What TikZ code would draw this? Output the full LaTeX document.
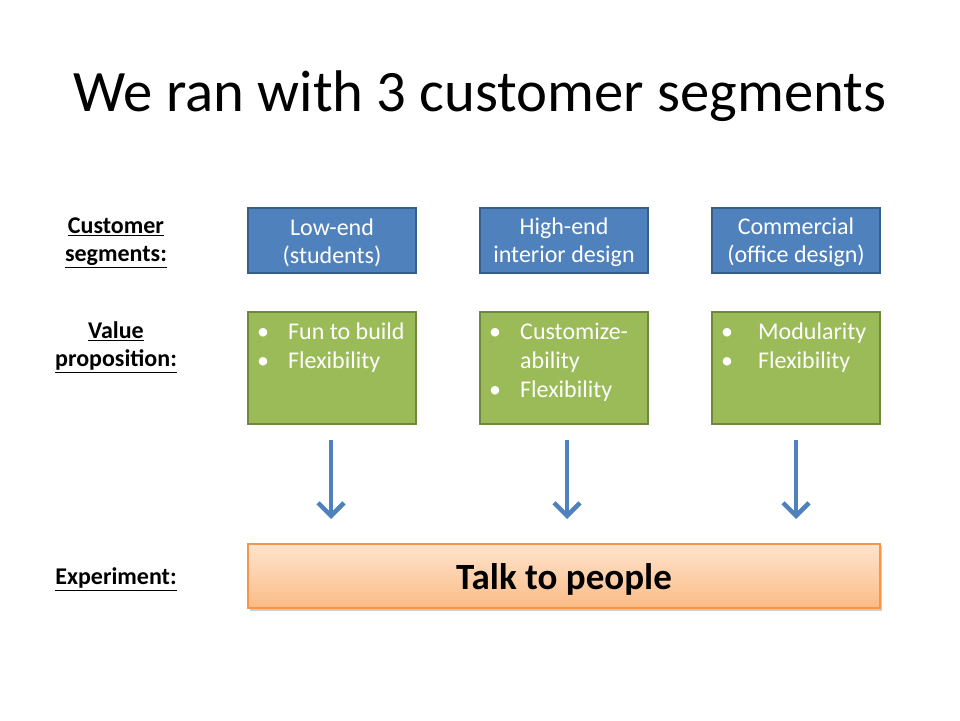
\documentclass[tikz,border=0pt]{standalone}
\usepackage{fontspec}
\setmainfont{Carlito}
\usetikzlibrary{arrows.meta,shadows}
\definecolor{segblue}{HTML}{4F81BD}
\definecolor{segblueline}{HTML}{385D8A}
\definecolor{vpgreen}{HTML}{9BBB59}
\definecolor{vpgreenline}{HTML}{71893F}
\definecolor{exptop}{HTML}{FFE4CE}
\definecolor{expbot}{HTML}{FBBB85}
\definecolor{expline}{HTML}{F79646}
\begin{document}
\begin{tikzpicture}[x=1pt,y=1pt,
  segbox/.style={draw=segblueline,fill=segblue,line width=2pt,minimum width=168pt,minimum height=65pt,inner sep=0pt},
  segtext/.style={text=white,align=center,inner sep=0pt,font=\fontsize{24}{28}\selectfont},
  vpbox/.style={draw=vpgreenline,fill=vpgreen,line width=2pt,minimum width=168pt,minimum height=112pt,inner sep=0pt},
  vptext/.style={anchor=base west,inner sep=0pt,text=white,font=\fontsize{24}{29}\selectfont},
  rowlabel/.style={align=center,inner sep=0pt,font=\bfseries\fontsize{24}{28}\selectfont},
  flowarrow/.style={draw=segblue,line width=4.5pt,-{Straight Barb[length=13pt,width=26pt,line width=4.5pt]}}
]
\useasboundingbox (0,0) rectangle (960,720);
\fill[white] (0,0) rectangle (960,720);

\node[inner sep=0pt,font=\fontsize{58.7}{70}\selectfont] (title) at (480,624) {We ran with 3 customer segments};

% row labels
\node[rowlabel] (lseg) at (116,477) {\underline{Customer}\\\underline{segments:}};
\node[rowlabel] (lvp) at (116,373) {\underline{Value}\\\underline{proposition:}};
\node[rowlabel] (lexp) at (116,141) {\underline{Experiment:}};

% segment boxes
\node[segbox] (s1) at (332,479.5) {};
\node[segbox] (s2) at (564,479.5) {};
\node[segbox] (s3) at (796,479.5) {};
\node[segtext] (s1t) at (332,477.5) {Low-end\\(students)};
\node[segtext] (s2t) at (564,477.5) {High-end\\interior design};
\node[segtext] (s3t) at (796,477.5) {Commercial\\(office design)};

% value proposition boxes
\node[vpbox] (v1) at (332,352) {};
\node[vpbox] (v2) at (564,352) {};
\node[vpbox] (v3) at (796,352) {};

\node[vptext] (v1b1) at (257,380) {\textbullet};
\node[vptext] (v1t1) at (288,380) {Fun to build};
\node[vptext] (v1b2) at (257,351) {\textbullet};
\node[vptext] (v1t2) at (288,351) {Flexibility};

\node[vptext] (v2b1) at (489,380) {\textbullet};
\node[vptext] (v2t1) at (520,380) {Customize-};
\node[vptext] (v2t2) at (520,351) {ability};
\node[vptext] (v2b2) at (489,322) {\textbullet};
\node[vptext] (v2t3) at (520,322) {Flexibility};

\node[vptext] (v3b1) at (721,380) {\textbullet};
\node[vptext] (v3t1) at (758,380) {Modularity};
\node[vptext] (v3b2) at (721,351) {\textbullet};
\node[vptext] (v3t2) at (758,351) {Flexibility};

% experiment box
\node[draw=expline,line width=1.2pt,top color=exptop,bottom color=expbot,minimum width=632pt,minimum height=64pt,inner sep=0pt,
  drop shadow={shadow xshift=1.5pt,shadow yshift=-2.5pt,opacity=0.4,fill=black!50}] (exp) at (564,144) {};
\node[inner sep=0pt,font=\bfseries\fontsize{37}{44}\selectfont] (expt) at (564,141) {Talk to people};

% arrows
\coordinate (a1s) at (331,280); \coordinate (a1e) at (331,201);
\coordinate (a2s) at (567,280); \coordinate (a2e) at (567,201);
\coordinate (a3s) at (796,280); \coordinate (a3e) at (796,201);
\draw[flowarrow] (a1s) -- (a1e);
\draw[flowarrow] (a2s) -- (a2e);
\draw[flowarrow] (a3s) -- (a3e);
\end{tikzpicture}
\end{document}
